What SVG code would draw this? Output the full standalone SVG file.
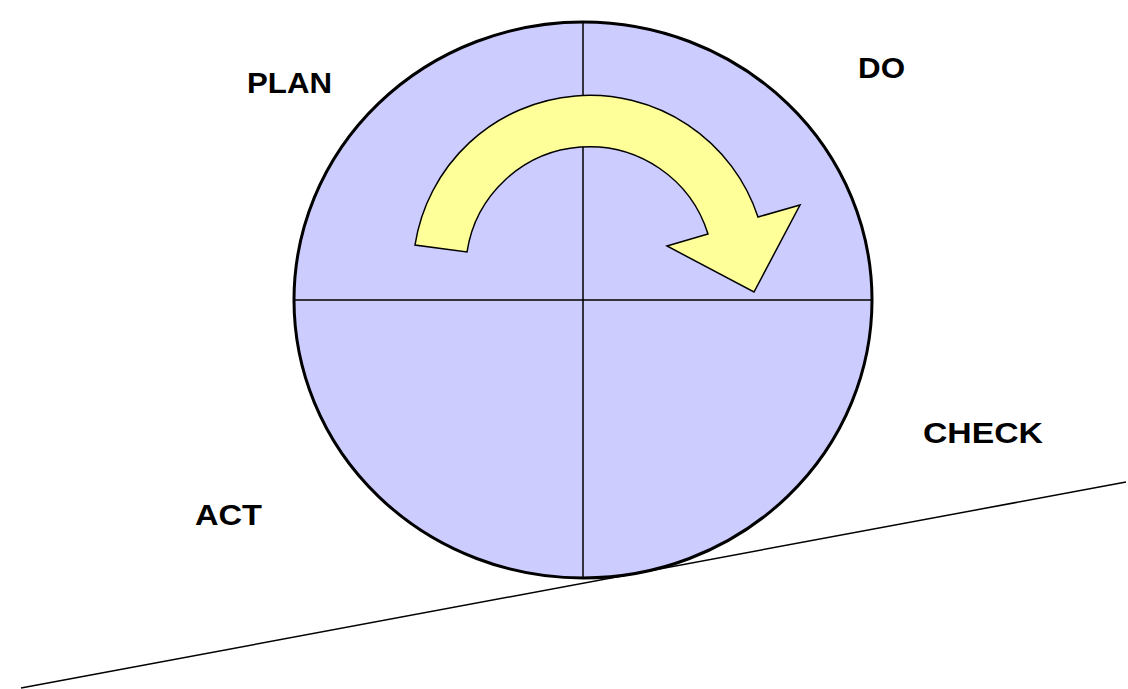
<svg xmlns="http://www.w3.org/2000/svg" width="1128" height="689" viewBox="0 0 1128 689">
<style>
.lbl{font-family:"Liberation Sans",Arial,sans-serif;font-weight:bold;font-size:29px;fill:#000}
.thin{stroke:#000;stroke-width:1.5;fill:none}
</style>
<rect width="1128" height="689" fill="#fff"/>
<g id="connectors">
<line class="thin" x1="21" y1="688" x2="1126" y2="482"/>
</g>
<g id="wheel">
<ellipse cx="583" cy="300" rx="289" ry="278" fill="#CCCCFF" stroke="#000" stroke-width="3"/>
<line class="thin" x1="583" y1="22" x2="583" y2="578"/>
<line class="thin" x1="294" y1="300" x2="872" y2="300"/>
</g>
<g id="arrow">
<path d="M415,245 A177,177 0 0 1 758,217 L800,205 L754,292 L667,246 L708,234 A124,124 0 0 0 467,252 Z" fill="#FFFF99" stroke="#000" stroke-width="1.5" stroke-linejoin="miter"/>
</g>
<g id="plan"><text class="lbl" x="247" y="93" textLength="85" lengthAdjust="spacingAndGlyphs">PLAN</text></g>
<g id="do"><text class="lbl" x="858" y="78" textLength="47" lengthAdjust="spacingAndGlyphs">DO</text></g>
<g id="check"><text class="lbl" x="923" y="443" textLength="120" lengthAdjust="spacingAndGlyphs">CHECK</text></g>
<g id="act"><text class="lbl" x="195" y="525" textLength="67" lengthAdjust="spacingAndGlyphs">ACT</text></g>
</svg>
